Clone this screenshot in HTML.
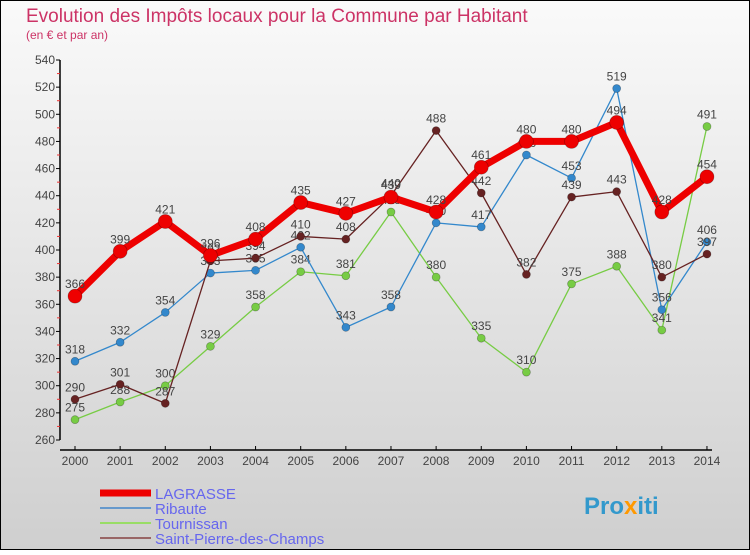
<!DOCTYPE html>
<html><head><meta charset="utf-8"><style>
body{margin:0;width:750px;height:550px;overflow:hidden;font-family:"Liberation Sans",sans-serif}
</style></head><body>
<svg width="750" height="550" xmlns="http://www.w3.org/2000/svg" font-family="Liberation Sans, sans-serif">
<defs><linearGradient id="bg" x1="0" y1="0" x2="0" y2="1"><stop offset="0" stop-color="#fafafa"/><stop offset="1" stop-color="#cfcfcf"/></linearGradient></defs>
<rect x="0.5" y="0.5" width="749" height="549" fill="url(#bg)" stroke="#000"/>
<text x="26" y="22" font-size="19" fill="#cc3366">Evolution des Impôts locaux pour la Commune par Habitant</text>
<text x="26" y="39" font-size="12" fill="#cc3366">(en € et par an)</text>
<g id="axes"></g><g id="series"></g>
<g>
<line x1="100" y1="493" x2="151" y2="493" stroke="#ee0000" stroke-width="7"/>
<text x="155" y="499" font-size="15" fill="#6666ee">LAGRASSE</text>
<line x1="100" y1="508" x2="151" y2="508" stroke="#6699cc" stroke-width="2"/>
<text x="155" y="514" font-size="15" fill="#6666ee">Ribaute</text>
<line x1="100" y1="523" x2="151" y2="523" stroke="#99dd66" stroke-width="2"/>
<text x="155" y="529" font-size="15" fill="#6666ee">Tournissan</text>
<line x1="100" y1="538" x2="151" y2="538" stroke="#996666" stroke-width="2"/>
<text x="155" y="544" font-size="15" fill="#6666ee">Saint-Pierre-des-Champs</text>
</g>
<text x="584" y="514" font-size="24" font-weight="bold" fill="#3399cc">Pro<tspan fill="#ff9900">x</tspan>iti</text>
</svg>
<script>
const years=[2000,2001,2002,2003,2004,2005,2006,2007,2008,2009,2010,2011,2012,2013,2014];
const yTicks=[260,280,300,320,340,360,380,400,420,440,460,480,500,520,540];
const lagrasse=[366,399,421,396,408,435,427,439,428,461,480,480,494,428,454];
const ribaute=[318,332,354,383,385,402,343,358,420,417,470,453,519,356,406];
const tournissan=[275,288,300,329,358,384,381,428,380,335,310,375,388,341,491];
const stPierre=[290,301,287,392,394,410,408,440,488,442,382,439,443,380,397];
const NS="http://www.w3.org/2000/svg";
const xs=i=>75+i*45.14;
const ys=v=>440-(v-260)*380/280;
function mk(t,a,p){const e=document.createElementNS(NS,t);for(const k in a)e.setAttribute(k,a[k]);p.appendChild(e);return e;}
const ax=document.getElementById('axes');
let e=mk('line',{x1:60,y1:60,x2:60,y2:440,stroke:'#000','stroke-width':1.5},ax);


e=mk('line',{x1:60,y1:450,x2:712,y2:450,stroke:'#000','stroke-width':1.5},ax);


yTicks.forEach((v,i)=>{const y=ys(v);
mk('line',{x1:56,y1:y,x2:60,y2:y,stroke:'#000'},ax);
if(i<yTicks.length-1)mk('line',{x1:57,y1:ys(v+10),x2:60,y2:ys(v+10),stroke:'#ee3333'},ax);
const t=mk('text',{x:55,y:y+4,'font-size':12,fill:'#444','text-anchor':'end'},ax);t.textContent=v;

});
years.forEach((yr,i)=>{const x=xs(i);
mk('line',{x1:x,y1:446,x2:x,y2:450,stroke:'#000'},ax);
const t=mk('text',{x:x,y:465,'font-size':12,fill:'#444','text-anchor':'middle'},ax);t.textContent=yr;

});
const sg=document.getElementById('series');
function draw(data,color,w,r,name){
const g=mk('g',{},sg);


mk('polyline',{points:data.map((v,i)=>xs(i)+','+ys(v)).join(' '),fill:'none',stroke:color,'stroke-width':w,'stroke-linejoin':'round'},g);
data.forEach((v,i)=>{const c=mk('circle',{cx:xs(i),cy:ys(v),r:r,fill:color,stroke:'rgba(0,0,0,0.3)','stroke-width':0.7},g);


const t=mk('text',{x:xs(i),y:ys(v)-8,'font-size':12,fill:'#444','text-anchor':'middle'},g);t.textContent=v;

});}
draw(tournissan,'#77cc44',1.3,4,'series-tournissan');
draw(ribaute,'#3388cc',1.3,4,'series-ribaute');
draw(stPierre,'#662222',1.3,4,'series-saint-pierre');
draw(lagrasse,'#ee0000',7,7,'series-lagrasse');
</script>
</body></html>
